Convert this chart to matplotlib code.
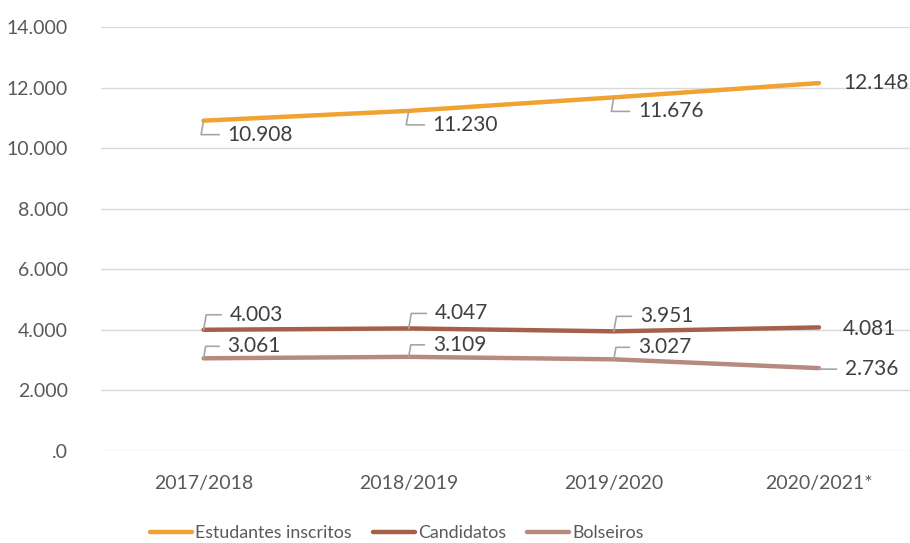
import numpy as np
import matplotlib.pyplot as plt
from matplotlib.ticker import FuncFormatter

# data
years = ["2017/2018", "2018/2019", "2019/2020", "2020/2021*"]
estudantes = [10908, 11230, 11676, 12148]
candidatos = [4003, 4047, 3951, 4081]
bolseiros = [3061, 3109, 3027, 2736]
series_names = ["Estudantes inscritos", "Candidatos", "Bolseiros"]
y_ticks = [0, 2000, 4000, 6000, 8000, 10000, 12000, 14000]

colors = ["#F0A232", "#A6604A", "#B8897D"]
text_col = "#404040"
tick_col = "#595959"
leader_col = "#A5A5A5"

plt.rcParams['font.family'] = ['Lato', 'DejaVu Sans']

fig = plt.figure(figsize=(9.1, 5.43), dpi=100)
ax = fig.add_axes([101 / 910, 1 - 451 / 543, (910 - 101) / 910, (451 - 27) / 543])

x = np.arange(len(years))
for vals, name, col in zip([estudantes, candidatos, bolseiros], series_names, colors):
    ax.plot(x, vals, color=col, lw=3.2, solid_capstyle='round', label=name, zorder=3)


def fmt_num(v):
    return f"{v:,.0f}".replace(",", ".")


def label(xi, yi, dx, dy, leader=True):
    # offset in pixels from the data point; text anchored left-middle
    kw = {}
    if leader:
        kw['arrowprops'] = dict(arrowstyle='-', color=leader_col, lw=1.2,
                                connectionstyle='angle,angleA=0,angleB=80,rad=0',
                                relpos=(0, 0.5), shrinkA=4, shrinkB=0)
    ax.annotate(fmt_num(yi), (xi, yi), xytext=(dx, dy), textcoords='offset pixels',
                ha='left', va='center', fontsize=15, color=text_col, zorder=5, **kw)


# estudantes: label below-right
for i in range(3):
    label(x[i], estudantes[i], 24, -14)
label(x[3], estudantes[3], 24, 0, leader=False)

# candidatos: label above-right
for i in range(3):
    label(x[i], candidatos[i], 26, 15)
label(x[3], candidatos[3], 24, -2, leader=False)

# bolseiros: label above-right
for i in range(3):
    label(x[i], bolseiros[i], 24, 12)
label(x[3], bolseiros[3], 26, -1)

ax.set_xlim(-0.5, 3 + (910 - 819) / 205)
ax.set_ylim(0, 14000)
ax.set_yticks(y_ticks)
ax.yaxis.set_major_formatter(FuncFormatter(lambda v, p: ".0" if v == 0 else fmt_num(v)))
ax.set_xticks(x)
ax.set_xticklabels(years)
ax.tick_params(axis='both', length=0, labelsize=14, labelcolor=tick_col)
ax.tick_params(axis='y', pad=24)
ax.tick_params(axis='x', pad=17)
ax.grid(axis='y', color='#D9D9D9', lw=1)
ax.set_axisbelow(True)
for s in ax.spines.values():
    s.set_visible(False)

leg = fig.legend(loc='lower left', bbox_to_anchor=(150 / 910, 2 / 543), ncol=3, frameon=False,
                 fontsize=12.8, handlelength=2.35, handletextpad=0.18, columnspacing=1.2,
                 borderpad=0, borderaxespad=0)
for t in leg.get_texts():
    t.set_color(tick_col)

fig.savefig("out.png", dpi=100)
